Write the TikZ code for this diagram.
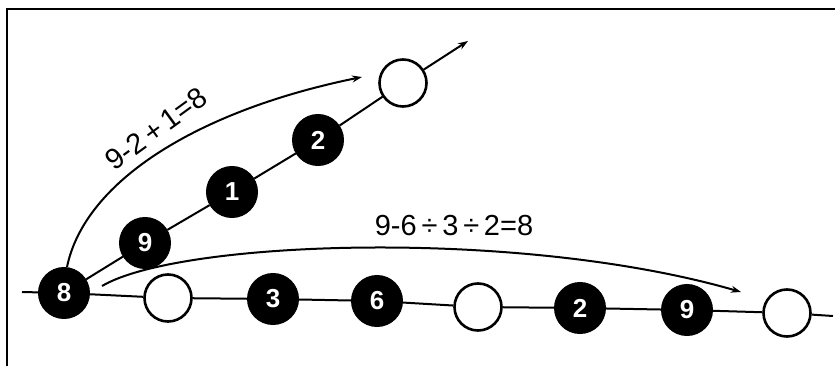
\documentclass[tikz,border=0pt]{standalone}
\usepackage{fontspec}
\setmainfont{Liberation Sans}
\usetikzlibrary{arrows.meta}

\begin{document}
\begin{tikzpicture}[
  x=1pt, y=-1pt,
  line width=2pt,
  bead/.style={circle, fill=black, draw=black, minimum size=50pt, inner sep=0pt, text=white, font=\fontsize{26}{26}\selectfont\bfseries},
  blank/.style={circle, fill=white, draw=black, line width=2.6pt, minimum size=47pt, inner sep=0pt},
  sum/.style={font=\fontsize{29}{29}\selectfont, inner sep=0pt},
  arrow/.style={-{Stealth[length=10pt, width=7pt]}},
]
\useasboundingbox (0,0) rectangle (835,366);
% frame
\draw[line width=1.3pt] (7,366) -- (7,9) -- (835,9);

% beads on the lower row
\node[bead] (n8) at (64,293) {8};
\node[blank] (w1) at (168,298) {};
\node[bead] (b3) at (273,299) {3};
\node[bead] (b6) at (377,301) {6};
\node[blank] (w2) at (478,307) {};
\node[bead] (b2) at (580,308) {2};
\node[bead] (b9) at (687,310) {9};
\node[blank] (w3) at (787,313) {};
\coordinate (lstart) at (22,292);
\coordinate (lend) at (833,316);
\draw (lstart) -- (n8) -- (w1) -- (b3) -- (b6) -- (w2) -- (b2) -- (b9) -- (w3) -- (lend);

% beads on the slanted row
\node[bead] (d9) at (145,243) {9};
\node[bead] (d1) at (232,192) {1};
\node[bead] (d2) at (318,140) {2};
\node[blank] (dtop) at (403,83) {};
\coordinate (dtip) at (468,41);
\draw (n8) -- (d9) -- (d1) -- (d2) -- (dtop);
\draw[arrow] (dtop) -- (dtip);

% jumps
\coordinate (up0) at (67,267);
\coordinate (up1) at (362,77);
\draw[arrow] (up0) .. controls (85,180) and (200,110) .. (up1);
\node[sum, rotate=36] (eq1) at (156,129) {9-2\,+\,1=8};

\coordinate (lo0) at (102,286);
\coordinate (lo1) at (741,292);
\draw[arrow] (lo0) .. controls (180,240) and (520,228) .. (lo1);
\node[sum] (eq2) at (454,226) {9-6\,÷\,3\,÷\,2=8};
\end{tikzpicture}
\end{document}
